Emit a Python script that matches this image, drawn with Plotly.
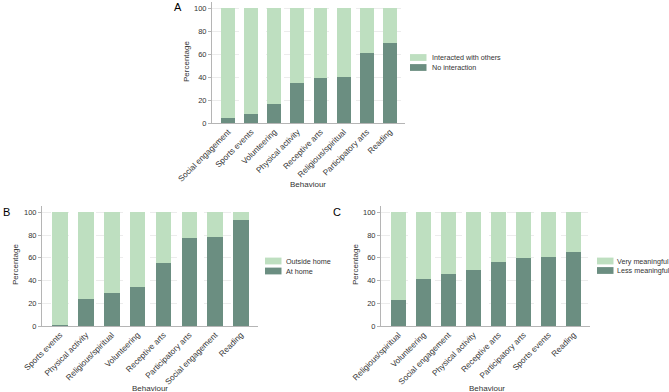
import plotly.graph_objects as go

W, H = 669, 392

# Panel A
cats_a = ["Social engagement", "Sports events", "Volunteering", "Physical activity",
          "Receptive arts", "Religious/spiritual", "Participatory arts", "Reading"]
no_interaction = [4.4, 7.8, 16.9, 34.6, 39.2, 40.4, 61.0, 69.8]
interacted = [round(100 - v, 1) for v in no_interaction]

# Panel B
cats_b = ["Sports events", "Physical activity", "Religious/spiritual", "Volunteering",
          "Receptive arts", "Participatory arts", "Social engagement", "Reading"]
at_home = [1.2, 23.7, 28.7, 34.5, 55.0, 77.2, 78.4, 93.0]
outside_home = [round(100 - v, 1) for v in at_home]

# Panel C
cats_c = ["Religious/spiritual", "Volunteering", "Social engagement", "Physical activity",
          "Receptive arts", "Participatory arts", "Sports events", "Reading"]
less_meaningful = [23.0, 41.5, 45.6, 49.1, 56.1, 60.2, 60.5, 65.2]
very_meaningful = [round(100 - v, 1) for v in less_meaningful]

DARK = "#6b8e81"
LIGHT = "#bedfc0"
FONT = "Liberation Sans, Arial, sans-serif"
TXT = "#333333"

fig = go.Figure()

def px_x(p):
    return p / W

def px_y(p):
    return 1 - p / H

panels = [
    # suffix, cats, dark, light, dark name, light name, legend (swatch left, text left, row1 y, row2 y)
    ("", cats_a, no_interaction, interacted, "No interaction", "Interacted with others", (410, 431, 57.5, 67.5)),
    ("2", cats_b, at_home, outside_home, "At home", "Outside home", (265, 285, 261, 271)),
    ("3", cats_c, less_meaningful, very_meaningful, "Less meaningful", "Very meaningful", (597, 616, 261, 270.5)),
]
for suf, cats, dark, light, dname, lname, leg in panels:
    fig.add_trace(go.Bar(x=cats, y=dark, name=dname, marker_color=DARK, marker_line_width=0,
                         width=0.6, xaxis="x" + suf, yaxis="y" + suf, showlegend=False))
    fig.add_trace(go.Bar(x=cats, y=light, name=lname, marker_color=LIGHT, marker_line_width=0,
                         width=0.6, xaxis="x" + suf, yaxis="y" + suf, showlegend=False))
    sx, tx, y1, y2 = leg
    for name, col, yc in [(lname, LIGHT, y1), (dname, DARK, y2)]:
        fig.add_shape(type="rect", xref="paper", yref="paper",
                      x0=px_x(sx), x1=px_x(sx + 16.5), y0=px_y(yc + 3.4), y1=px_y(yc - 3.4),
                      fillcolor=col, line_width=0)
        fig.add_annotation(text=name, x=px_x(tx), y=px_y(yc), xref="paper", yref="paper",
                           showarrow=False, xanchor="left", yanchor="middle", borderpad=0,
                           font=dict(size=7.2, color=TXT, family=FONT))

axis_common_x = dict(showgrid=False, showline=True, linecolor="#b5b5b5", linewidth=1,
                     ticks="", tickangle=-45, tickfont=dict(size=8.2, color=TXT, family=FONT),
                     range=[-0.7, 7.66], fixedrange=True, automargin=False)
axis_common_y = dict(showgrid=True, gridcolor="#ececec", griddash="dash", gridwidth=1,
                     showline=True, linecolor="#b5b5b5", linewidth=1, ticks="outside",
                     ticklen=3, tickcolor="#b5b5b5", tickvals=[0, 20, 40, 60, 80, 100],
                     tickfont=dict(size=7.5, color=TXT, family=FONT), range=[0, 105.5],
                     zeroline=False, automargin=False, fixedrange=True)

fig.update_layout(
    width=W, height=H, autosize=False, margin=dict(l=0, r=0, t=0, b=0, pad=0, autoexpand=False),
    paper_bgcolor="white", plot_bgcolor="white", barmode="stack",
    font=dict(family=FONT, color=TXT, size=7.5), showlegend=False,
    xaxis=dict(domain=[px_x(212), px_x(405)], anchor="y", **axis_common_x),
    yaxis=dict(domain=[px_y(123), px_y(2)], anchor="x", **axis_common_y),
    xaxis2=dict(domain=[px_x(42), px_x(258)], anchor="y2", **axis_common_x),
    yaxis2=dict(domain=[px_y(326), px_y(206)], anchor="x2", **axis_common_y),
    xaxis3=dict(domain=[px_x(381), px_x(590)], anchor="y3", **axis_common_x),
    yaxis3=dict(domain=[px_y(326), px_y(206)], anchor="x3", **axis_common_y),
)

def ann(text, x, y, size=8, angle=0, color=TXT):
    fig.add_annotation(text=text, x=px_x(x), y=px_y(y), xref="paper", yref="paper",
                       showarrow=False, textangle=angle, xanchor="center", yanchor="middle",
                       borderpad=0, font=dict(size=size, color=color, family=FONT))

# panel letters
ann("A", 178, 7, size=11, color="black")
ann("B", 6, 212, size=11, color="black")
ann("C", 337, 212, size=11, color="black")
# axis titles
ann("Percentage", 186, 62, angle=-90)
ann("Percentage", 15, 265, angle=-90)
ann("Percentage", 355, 265, angle=-90)
ann("Behaviour", 308, 184)
ann("Behaviour", 150, 388)
ann("Behaviour", 487, 388)

fig.write_html("out.html")
